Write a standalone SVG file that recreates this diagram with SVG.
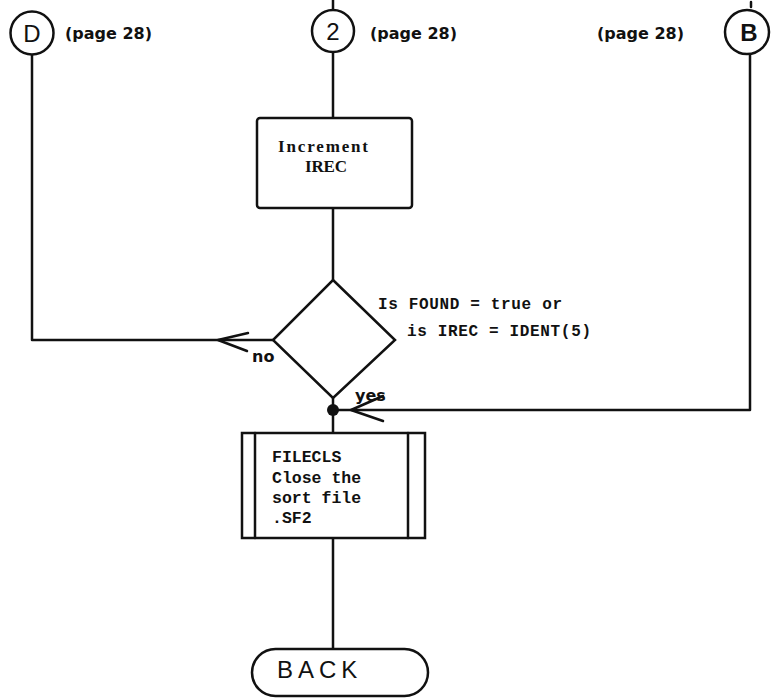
<svg xmlns="http://www.w3.org/2000/svg" width="771" height="698" viewBox="0 0 771 698">
<style>
.s{fill:none;stroke:#111;stroke-width:2.5;stroke-linejoin:round;stroke-linecap:round}
.b{fill:#fff;stroke:#111;stroke-width:2.5}
.t{font-family:"Liberation Mono",monospace;font-weight:bold;fill:#111}
.sf{font-family:"Liberation Serif",serif;font-weight:bold;fill:#111}
.lbl{font-family:"DejaVu Sans","Liberation Sans",sans-serif;font-weight:bold;fill:#111;font-size:16px}
.c{font-family:"Liberation Sans",Arial,sans-serif;fill:#111;font-size:24px}
</style>
<rect width="771" height="698" fill="#fff"/>
<g id="connectors">
<path class="s" d="M32 55 V340 H273"/>
<path class="s" d="M218 340 L248 333 M218 340 L247 351"/>
<path class="s" d="M333 0 V10 M333 52 V118"/>
<path class="s" d="M333 208 V280"/>
<path class="s" d="M333 398 V433"/>
<path class="s" d="M750 54 V410 H333"/>
<path class="s" d="M351 410 L383 396 M351 410 L383 421"/>
<path class="s" d="M751 2 V7"/>
<path class="s" d="M333 538 V649"/>
<circle cx="333" cy="410" r="6" fill="#111"/>
<text class="lbl" x="252" y="362">no</text>
<text class="lbl" x="355" y="401">yes</text>
</g>
<g id="conn-D">
<circle class="b" cx="32" cy="33" r="21.5"/>
<text class="c" x="32" y="42" text-anchor="middle">D</text>
<text class="lbl" x="65" y="39">(page 28)</text>
</g>
<g id="conn-2">
<circle class="b" cx="333" cy="31" r="21"/>
<text class="c" x="333" y="40" text-anchor="middle">2</text>
<text class="lbl" x="370" y="39">(page 28)</text>
</g>
<g id="conn-B">
<circle class="b" cx="747" cy="32" r="22"/>
<text class="c" x="749" y="41" text-anchor="middle" font-weight="bold">B</text>
<text class="lbl" x="597" y="39">(page 28)</text>
</g>
<g id="increment">
<rect class="b" x="257" y="118" width="155" height="90" rx="3"/>
<text class="sf" x="323" y="152" text-anchor="middle" font-size="17" textLength="90">Increment</text>
<text class="sf" x="326" y="172" text-anchor="middle" font-size="17" textLength="42">IREC</text>
</g>
<g id="decision">
<polygon class="b" points="333,280 395,340 333,398 273,340"/>
<text class="t" x="378" y="309" font-size="16" textLength="184">Is FOUND = true or</text>
<text class="t" x="407" y="336" font-size="16" textLength="184">is IREC = IDENT(5)</text>
</g>
<g id="filecls">
<rect class="b" x="242" y="433" width="183" height="105"/>
<path class="s" d="M255 433 V538 M408 433 V538"/>
<text class="t" x="272" y="462" font-size="16.5">FILECLS</text>
<text class="t" x="272" y="483" font-size="16.5">Close the</text>
<text class="t" x="272" y="503" font-size="16.5">sort file</text>
<text class="t" x="272" y="523" font-size="16.5">.SF2</text>
</g>
<g id="back">
<rect class="b" x="252" y="649" width="176" height="47" rx="23.5"/>
<text class="c" x="277" y="678" letter-spacing="5">BACK</text>
</g>
</svg>
